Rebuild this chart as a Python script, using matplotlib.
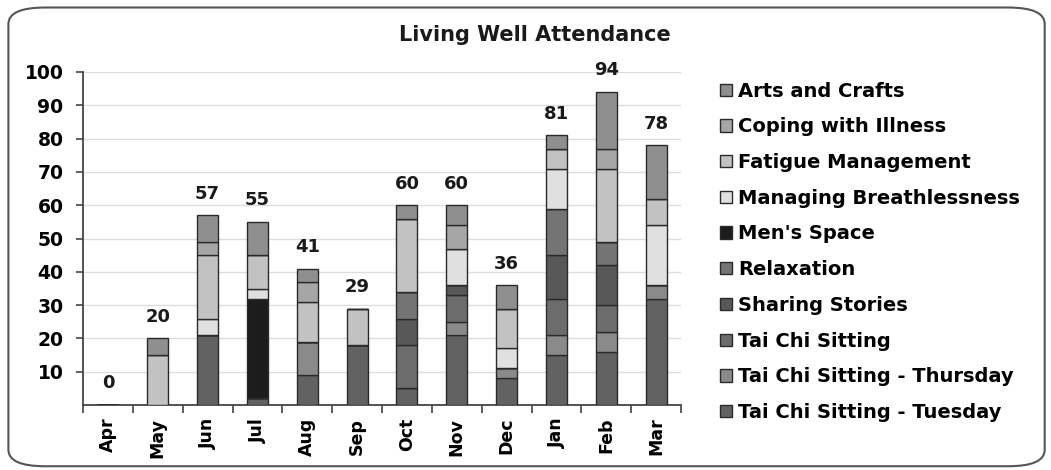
import matplotlib
matplotlib.use("Agg")

import matplotlib.pyplot as plt
from matplotlib.patches import FancyBboxPatch, Patch
import numpy as np

plt.rcParams["font.family"] = ["DejaVu Sans"]
plt.rcParams["font.weight"] = "bold"

###------------------------data----------------------------###
months = ["Apr", "May", "Jun", "Jul", "Aug", "Sep", "Oct", "Nov", "Dec", "Jan", "Feb", "Mar"]

tai_chi_tuesday   = [0, 0, 21,  2,  9, 18,  5, 21,  8, 15, 16, 32]
tai_chi_thursday  = [0, 0,  0,  0, 10,  0,  0,  4,  3,  6,  6,  4]
tai_chi_sitting   = [0, 0,  0,  0,  0,  0, 13,  8,  0, 11,  8,  0]
sharing_stories   = [0, 0,  0,  0,  0,  0,  8,  3,  0, 13, 12,  0]
relaxation        = [0, 0,  0,  0,  0,  0,  8,  0,  0, 14,  7,  0]
mens_space        = [0, 0,  0, 30,  0,  0,  0,  0,  0,  0,  0,  0]
managing_breath   = [0, 0,  5,  3,  0,  0,  0, 11,  6, 12,  0, 18]
fatigue_mgmt      = [0, 15, 19, 10, 12, 11, 22,  0, 12,  6, 22,  8]
coping_illness    = [0, 0,  4,  0,  6,  0,  0,  7,  0,  0,  6,  0]
arts_crafts       = [0, 5,  8, 10,  4,  0,  4,  6,  7,  4, 17, 16]

# bottom -> top stacking
stack = [
    ("Tai Chi Sitting - Tuesday",  tai_chi_tuesday,  "#626262"),
    ("Tai Chi Sitting - Thursday", tai_chi_thursday, "#8a8a8a"),
    ("Tai Chi Sitting",            tai_chi_sitting,  "#6c6c6c"),
    ("Sharing Stories",            sharing_stories,  "#585858"),
    ("Relaxation",                 relaxation,       "#747474"),
    ("Men's Space",                mens_space,       "#1c1c1c"),
    ("Managing Breathlessness",    managing_breath,  "#e0e0e0"),
    ("Fatigue Management",         fatigue_mgmt,     "#c2c2c2"),
    ("Coping with Illness",        coping_illness,   "#a6a6a6"),
    ("Arts and Crafts",            arts_crafts,      "#8f8f8f"),
]

###------------------------figure--------------------------###
fig = plt.figure(figsize=(10.51, 4.70), dpi=100)
fig.patches.append(FancyBboxPatch((0.008, 0.008), 0.986, 0.976,
                                  boxstyle="round,pad=0,rounding_size=0.035",
                                  transform=fig.transFigure, fill=False,
                                  edgecolor="#555555", linewidth=1.5))

ax = fig.add_axes([0.079, 0.138, 0.569, 0.709])
x = np.arange(len(months))
bottom = np.zeros(len(months))
for name, vals, col in stack:
    vals = np.array(vals, dtype=float)
    ax.bar(x, vals, 0.42, bottom=bottom, color=col, edgecolor="#2a2a2a",
           linewidth=1.0, zorder=3)
    bottom += vals

totals = bottom
for i, t in enumerate(totals):
    ax.text(x[i], t + 6.5, f"{int(t)}", ha="center", va="center",
            fontsize=13, fontweight="bold", color="#1a1a1a", zorder=4)

###------------------------axes----------------------------###
ax.set_xlim(-0.5, len(months) - 0.5)
ax.set_ylim(0, 100)
ax.set_yticks(np.arange(10, 101, 10))
ax.set_yticklabels([str(v) for v in range(10, 101, 10)], fontsize=13.5, fontweight="bold")
ax.set_xticks(x)
ax.set_xticklabels(months, rotation=90, fontsize=12.5, fontweight="bold")
ax.set_xticks(np.arange(-0.5, len(months), 1), minor=True)
ax.tick_params(axis="x", which="major", length=0, pad=9)
ax.tick_params(axis="x", which="minor", length=6, width=1.2, direction="out", color="#444444")
ax.tick_params(axis="y", length=5, width=1.2, direction="out", color="#444444", pad=9)
ax.grid(axis="y", color="#dddddd", linewidth=1.0, zorder=0)
for s in ["top", "right"]:
    ax.spines[s].set_visible(False)
for s in ["left", "bottom"]:
    ax.spines[s].set_color("#444444")
    ax.spines[s].set_linewidth(1.3)

fig.text(0.509, 0.926, "Living Well Attendance", ha="center", va="center",
         fontsize=15, fontweight="bold", color="#1a1a1a")

###------------------------legend--------------------------###
handles = [Patch(facecolor=col, edgecolor="#2a2a2a", linewidth=1.0) for _, _, col in stack][::-1]
labels = [name for name, _, _ in stack][::-1]
fig.legend(handles, labels, loc="upper left", bbox_to_anchor=(0.678, 0.843),
           frameon=False, handlelength=0.6, handleheight=0.6,
           handletextpad=0.3, labelspacing=0.86, borderaxespad=0,
           prop={"weight": "bold", "size": 14})

fig.savefig("out.png", dpi=100)
